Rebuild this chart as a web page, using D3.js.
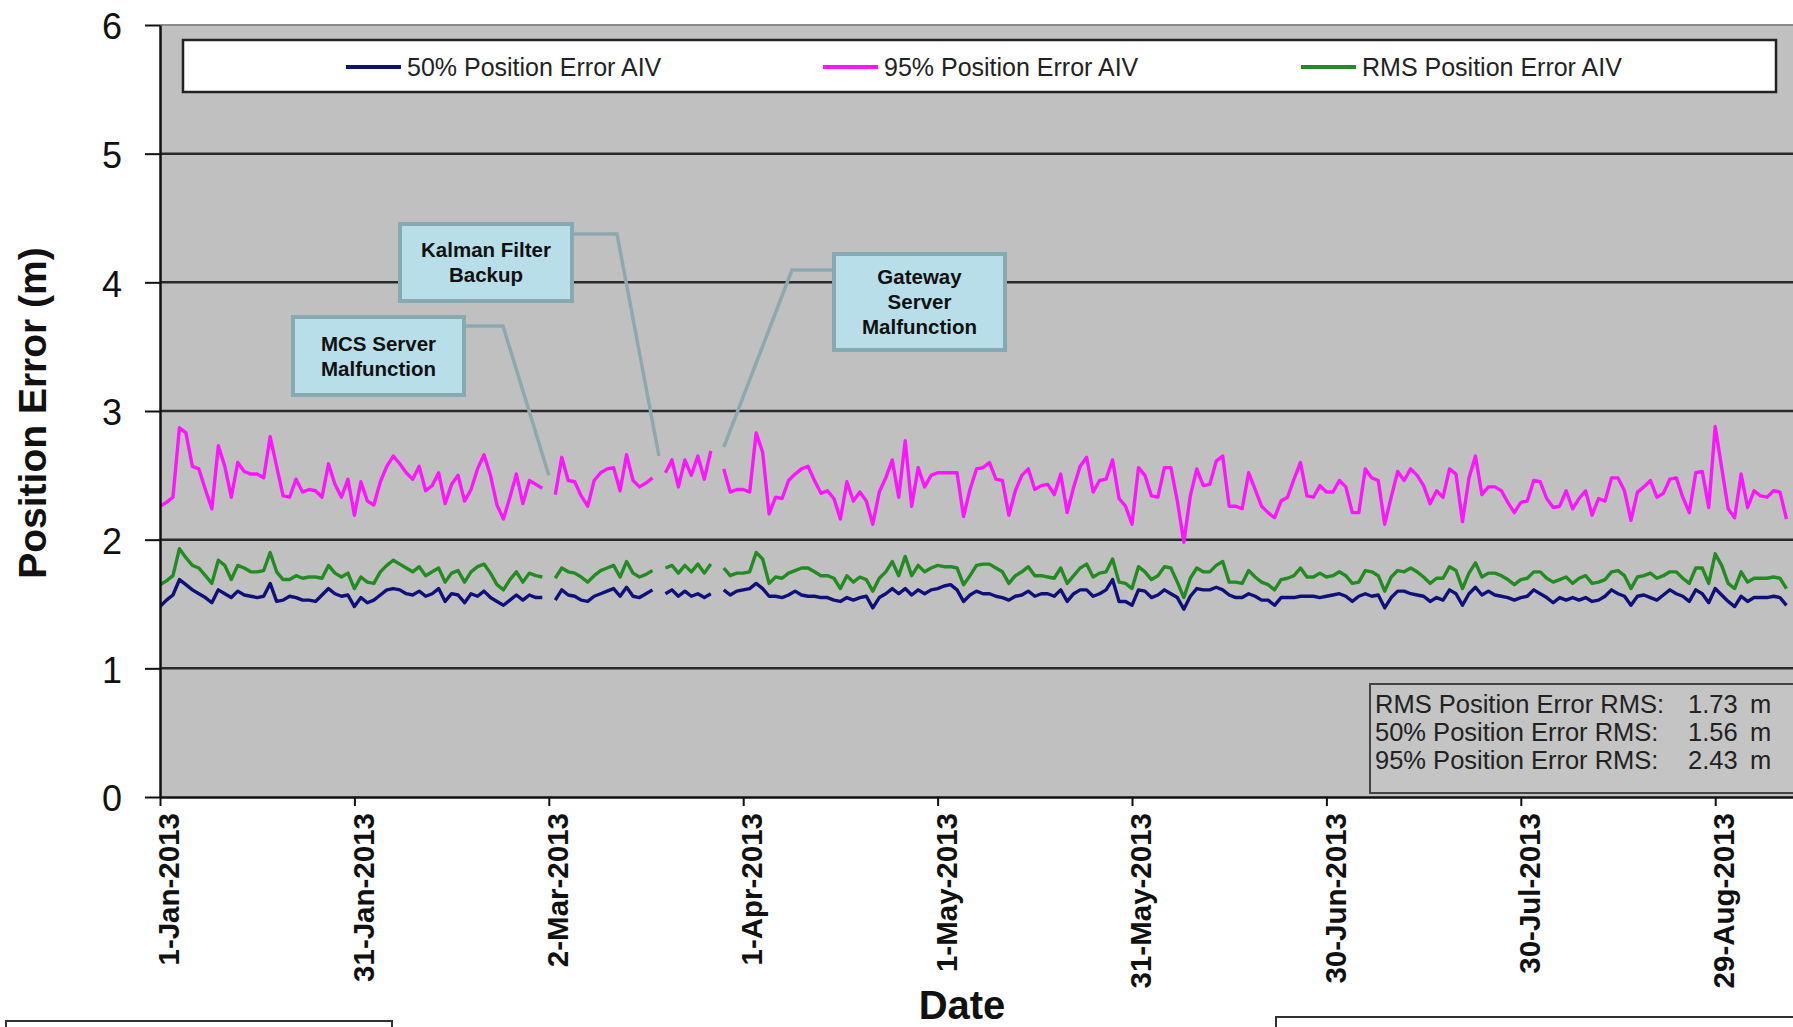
<!DOCTYPE html>
<html><head><meta charset="utf-8">
<script src="https://cdn.jsdelivr.net/npm/d3@7"></script>
<style>
body{margin:0;background:#fff;}
svg{display:block;font-family:"Liberation Sans",Arial,sans-serif;}
</style></head>
<body><svg id="c" width="1793" height="1027"></svg>
<script>
// ---------------- DATA ----------------
const startDate = "1-Jan-2013";
const endDate = "28-Sep-2013";
const seriesNames = ["50% Position Error AIV","95% Position Error AIV","RMS Position Error AIV"];
const seriesColors = ["#10107a","#ff14ff","#228b22"];
const tickLabels = ["1-Jan-2013","31-Jan-2013","2-Mar-2013","1-Apr-2013","1-May-2013","31-May-2013","30-Jun-2013","30-Jul-2013","29-Aug-2013"];
const yTicks = [0,1,2,3,4,5,6];
const yTitle = "Position Error (m)";
const xTitle = "Date";
const statLabels = ["RMS Position Error RMS:","50% Position Error RMS:","95% Position Error RMS:"];
const statValues = ["1.73","1.56","2.43"];
const statUnit = "m";
const annoTexts = [["MCS Server","Malfunction"],["Kalman Filter","Backup"],["Gateway","Server","Malfunction"]];
const annoTargets = [["2-Mar-2013",2.5],["19-Mar-2013",2.65],["29-Mar-2013",2.72]];

// daily values from 1-Jan-2013 (null = no data)
const pe95 = [
2.26,2.29,2.33,2.87,2.83,2.57,2.55,2.39,2.24,2.73, 2.57,2.33,2.60,2.53,2.51,2.51,2.48,2.80,2.57,2.34,
2.33,2.47,2.37,2.39,2.38,2.33,2.59,2.43,2.33,2.47, 2.19,2.45,2.30,2.27,2.45,2.57,2.65,2.59,2.52,2.47,
2.57,2.38,2.42,2.52,2.28,2.43,2.50,2.30,2.39,2.55, 2.66,2.50,2.27,2.16,2.33,2.51,2.28,2.46,2.43,2.40,
null,2.35,
2.64,2.46,2.45,2.34,2.26,2.46,2.52,2.55,2.56,2.38,2.66,2.46,2.41,2.44,2.48,
null,
2.52,2.62,2.41,2.62,2.50,2.65,2.47,2.69,
null,
2.55,2.37,2.39,2.39,2.37,2.83,2.68,2.20,2.33,2.32, 2.46,2.51,2.55,2.57,2.46,2.36,2.38,2.32,2.16,2.45,
2.30,2.37,2.30,2.12,2.37,2.48,2.62,2.33,2.77,2.26, 2.56,2.41,2.50,2.52,2.52,2.52,2.52,2.18,2.39,
2.55,2.56,2.60,2.47,2.46,2.19,2.38,2.50,2.55, 2.39,2.42,2.43,2.35,2.51,2.21,2.41,2.57,2.64,2.37,
2.46,2.47,2.62,2.32,2.26,2.12,2.56,2.50,2.34,2.33, 2.56,2.56,2.30,1.98,2.34,2.55,2.42,2.43,2.61,2.65,
2.26,2.26,2.24,2.52,2.39,2.26,2.21,2.17,2.30,2.33, 2.47,2.60,2.34,2.33,2.42,2.37,2.37,2.46,2.41,2.21,
2.21,2.55,2.48,2.46,2.12,
2.33,2.53,2.46,2.55,2.50,2.42,2.28,2.38,2.33, 2.55,2.51,2.14,2.48,2.65,2.35,2.41,2.41,2.38,2.29,
2.21,2.29,2.30,2.46,2.45,2.32,2.25,2.26,2.38,2.24, 2.32,2.38,2.19,2.32,2.30,2.48,2.48,2.38,2.15,2.37,
2.41,2.46,2.33,2.36,2.47,2.48,2.33,2.21,2.52,2.53, 2.25,2.88,2.56,2.24,2.17,2.51,2.25,2.38,2.34,2.33,
2.38,2.37,2.16
];
const peRMS = [
1.65,1.68,1.72,1.93,1.86,1.80,1.78,1.72,1.66,1.84, 1.80,1.69,1.80,1.78,1.75,1.75,1.76,1.90,1.75,1.69,
1.69,1.72,1.70,1.71,1.71,1.70,1.80,1.74,1.71,1.74, 1.62,1.71,1.67,1.66,1.75,1.80,1.84,1.81,1.78,1.75,
1.79,1.72,1.75,1.78,1.67,1.74,1.76,1.67,1.75,1.79, 1.81,1.74,1.65,1.61,1.69,1.75,1.67,1.74,1.72,1.71,
null,1.70,
1.78,1.75,1.74,1.71,1.67,1.72,1.76,1.78,1.80,1.71,1.83,1.74,1.71,1.73,1.76,
null,
1.78,1.80,1.74,1.80,1.75,1.81,1.74,1.81,
null,
1.78,1.72,1.74,1.74,1.75,1.90,1.85,1.66,1.71,1.70, 1.74,1.76,1.78,1.78,1.75,1.72,1.72,1.70,1.62,1.72,
1.67,1.71,1.69,1.60,1.70,1.75,1.83,1.72,1.87,1.72, 1.80,1.75,1.78,1.80,1.79,1.79,1.78,1.65,1.72,
1.80,1.81,1.81,1.78,1.75,1.66,1.72,1.75,1.79, 1.72,1.72,1.71,1.70,1.78,1.66,1.72,1.78,1.81,1.71,
1.74,1.75,1.85,1.67,1.66,1.62,1.79,1.75,1.69,1.72, 1.79,1.78,1.67,1.55,1.70,1.78,1.75,1.75,1.80,1.83,
1.67,1.67,1.66,1.76,1.71,1.67,1.65,1.61,1.69,1.70, 1.72,1.78,1.71,1.71,1.74,1.71,1.72,1.75,1.72,1.66,
1.67,1.76,1.75,1.72,1.60,
1.71,1.76,1.75,1.78,1.75,1.71,1.66,1.70,1.70, 1.79,1.76,1.62,1.74,1.82,1.71,1.74,1.74,1.72,1.69,
1.65,1.69,1.70,1.75,1.75,1.70,1.67,1.69,1.71,1.66, 1.70,1.72,1.66,1.67,1.69,1.75,1.76,1.72,1.62,1.71,
1.72,1.74,1.70,1.72,1.75,1.75,1.70,1.66,1.78,1.78, 1.66,1.89,1.80,1.66,1.62,1.75,1.67,1.70,1.70,1.70,
1.71,1.70,1.62
];
const pe50 = [
1.48,1.53,1.57,1.69,1.65,1.61,1.58,1.55,1.51,1.61, 1.58,1.55,1.60,1.57,1.56,1.55,1.56,1.66,1.52,1.53,
1.56,1.55,1.53,1.53,1.52,1.57,1.62,1.58,1.56,1.57, 1.48,1.55,1.51,1.53,1.57,1.61,1.62,1.61,1.58,1.57,
1.60,1.56,1.58,1.62,1.52,1.58,1.57,1.51,1.58,1.56, 1.60,1.55,1.52,1.49,1.53,1.57,1.53,1.57,1.55,1.55,
null,1.53,
1.61,1.57,1.56,1.53,1.52,1.56,1.58,1.60,1.62,1.56,1.63,1.56,1.55,1.58,1.61,
null,
1.58,1.61,1.56,1.60,1.56,1.58,1.55,1.58,
null,
1.61,1.57,1.60,1.61,1.62,1.66,1.62,1.56,1.56,1.55, 1.57,1.60,1.57,1.56,1.56,1.55,1.55,1.53,1.52,1.55,
1.53,1.55,1.56,1.47,1.55,1.58,1.62,1.58,1.62,1.57, 1.61,1.58,1.61,1.62,1.64,1.65,1.61,1.52,1.57,
1.60,1.58,1.58,1.56,1.55,1.53,1.56,1.57,1.60, 1.56,1.58,1.58,1.56,1.61,1.52,1.58,1.61,1.61,1.56,
1.58,1.61,1.69,1.52,1.52,1.49,1.61,1.60,1.55,1.57, 1.61,1.58,1.55,1.46,1.56,1.62,1.61,1.61,1.63,1.61,
1.57,1.55,1.55,1.58,1.56,1.53,1.53,1.49,1.55,1.55, 1.55,1.56,1.56,1.56,1.55,1.56,1.57,1.58,1.56,1.52,
1.56,1.58,1.56,1.57,1.47,
1.55,1.60,1.60,1.58,1.57,1.56,1.52,1.55,1.53, 1.61,1.58,1.49,1.58,1.63,1.57,1.60,1.57,1.56,1.55,
1.53,1.55,1.56,1.61,1.58,1.55,1.51,1.55,1.53,1.55, 1.53,1.55,1.52,1.53,1.56,1.61,1.58,1.56,1.49,1.56,
1.57,1.55,1.53,1.57,1.61,1.58,1.56,1.52,1.61,1.58, 1.51,1.62,1.57,1.52,1.48,1.56,1.52,1.55,1.55,1.55,
1.56,1.55,1.49
];

// ---------------- CHART ----------------
const W = 1793, H = 1027;
const parse = d3.utcParse("%d-%b-%Y");
const t0 = parse(startDate), t1 = parse(endDate);
const svg = d3.select("#c");
const x = d3.scaleUtc().domain([t0, t1]).range([160, 1909.6]);
const y = d3.scaleLinear().domain([0, 6]).range([797, 25]);
const day = i => d3.utcDay.offset(t0, i);

// plot background
svg.append("rect").attr("x", x(t0)).attr("y", y(6)).attr("width", W - x(t0)).attr("height", y(0) - y(6)).attr("fill", "#c0c0c0");
// gridlines
svg.append("g").selectAll("line").data(yTicks.filter(v => v > 0 && v < 6)).join("line")
  .attr("x1", x(t0)).attr("x2", W).attr("y1", d => y(d)).attr("y2", d => y(d))
  .attr("stroke", "#2a2a2a").attr("stroke-width", 2.5);
svg.append("line").attr("x1", x(t0)).attr("x2", W).attr("y1", y(6)).attr("y2", y(6)).attr("stroke", "#8a8a8a").attr("stroke-width", 2);

// legend
const lg = svg.append("g");
lg.append("rect").attr("x", 183).attr("y", 40).attr("width", 1593).attr("height", 52).attr("fill", "#fff").attr("stroke", "#222").attr("stroke-width", 2.5);
const legX = [346, 823, 1301];
seriesNames.forEach((n, i) => {
  lg.append("line").attr("x1", legX[i]).attr("x2", legX[i] + 55).attr("y1", 67).attr("y2", 67).attr("stroke", seriesColors[i]).attr("stroke-width", 4);
  lg.append("text").attr("x", legX[i] + 61).attr("y", 67).attr("dy", "0.35em").attr("font-size", 25).attr("fill", "#222").text(n);
});

// annotations
const boxes = [
  {x: 293, y: 317, w: 171, h: 78, ey: 326, ex: 503, side: "r"},
  {x: 400, y: 224, w: 172, h: 77, ey: 234, ex: 617, side: "r"},
  {x: 834, y: 254, w: 171, h: 96, ey: 270, ex: 792, side: "l"}
];
const ag = svg.append("g");
boxes.forEach((b, i) => {
  const tx = x(parse(annoTargets[i][0])), ty = y(annoTargets[i][1]);
  const sx = b.side === "r" ? b.x + b.w : b.x;
  ag.append("polyline").attr("points", `${sx},${b.ey} ${b.ex},${b.ey} ${tx},${ty}`)
    .attr("fill", "none").attr("stroke", "#8ea8b0").attr("stroke-width", 3.5);
});
boxes.forEach((b, i) => {
  ag.append("rect").attr("x", b.x).attr("y", b.y).attr("width", b.w).attr("height", b.h)
    .attr("fill", "#b8dfe9").attr("stroke", "#87a9b2").attr("stroke-width", 4);
  const lines = annoTexts[i];
  const cy = b.y + b.h / 2;
  lines.forEach((t, j) => {
    ag.append("text").attr("x", b.x + b.w / 2).attr("y", cy + (j - (lines.length - 1) / 2) * 25)
      .attr("dy", "0.36em").attr("text-anchor", "middle").attr("font-size", 20.5).attr("font-weight", "bold").attr("fill", "#111").text(t);
  });
});

// series
svg.append("clipPath").attr("id", "clip").append("rect").attr("x", x(t0)).attr("y", y(6)).attr("width", W - x(t0)).attr("height", y(0) - y(6));
const line = d3.line().defined(d => d.v != null).x(d => x(d.t)).y(d => y(d.v));
const all = [pe50, pe95, peRMS];
const sg = svg.append("g").attr("clip-path", "url(#clip)");
[1, 2, 0].forEach(k => {
  const data = all[k].map((v, i) => ({t: day(i), v}));
  sg.append("path").datum(data).attr("d", line).attr("fill", "none")
    .attr("stroke", seriesColors[k]).attr("stroke-width", 3.4).attr("stroke-linejoin", "round");
});

// stats box
const stg = svg.append("g");
stg.append("rect").attr("x", 1370).attr("y", 684).attr("width", 440).attr("height", 109).attr("fill", "#c4c4c4").attr("stroke", "#444").attr("stroke-width", 2);
statLabels.forEach((s, i) => {
  const by = 713 + i * 28;
  stg.append("text").attr("x", 1375).attr("y", by).attr("font-size", 25.5).attr("fill", "#222").text(s);
  stg.append("text").attr("x", 1688).attr("y", by).attr("font-size", 25.5).attr("fill", "#222").text(statValues[i]);
  stg.append("text").attr("x", 1750).attr("y", by).attr("font-size", 25.5).attr("fill", "#222").text(statUnit);
});

// axes
const yAxis = svg.append("g").attr("transform", `translate(${x(t0)},0)`)
  .call(d3.axisLeft(y).tickValues(yTicks).tickSize(15).tickSizeOuter(0).tickPadding(23).tickFormat(d3.format("d")));
yAxis.select(".domain").attr("stroke", "#111").attr("stroke-width", 2.5);
yAxis.selectAll(".tick line").attr("stroke", "#111").attr("stroke-width", 2);
yAxis.selectAll(".tick text").attr("font-size", 36).attr("fill", "#111").attr("dy", "0.38em").attr("font-family", "Liberation Sans, Arial, sans-serif");

const xAxis = svg.append("g").attr("transform", `translate(0,${y(0)})`)
  .call(d3.axisBottom(x).tickValues(tickLabels.map(parse)).tickSize(9).tickSizeOuter(0).tickFormat((d, i) => tickLabels[i]));
xAxis.select(".domain").attr("stroke", "#111").attr("stroke-width", 2.5);
xAxis.selectAll(".tick line").attr("stroke", "#111").attr("stroke-width", 2);
xAxis.selectAll(".tick text").attr("font-size", 29.5).attr("font-weight", "bold").attr("fill", "#111")
  .attr("font-family", "Liberation Sans, Arial, sans-serif")
  .attr("transform", "rotate(-90)").attr("x", -16).attr("y", 8).attr("dy", "0.36em").style("text-anchor", "end");

// titles
svg.append("text").attr("transform", "translate(32,413) rotate(-90)").attr("dy", "0.36em").attr("text-anchor", "middle")
  .attr("font-size", 39).attr("font-weight", "bold").attr("fill", "#111").text(yTitle);
svg.append("text").attr("x", 962).attr("y", 1019).attr("text-anchor", "middle")
  .attr("font-size", 40).attr("font-weight", "bold").attr("fill", "#111").text(xTitle);

// cut-off boxes at bottom
svg.append("rect").attr("x", 6).attr("y", 1021).attr("width", 386).attr("height", 30).attr("fill", "#fff").attr("stroke", "#333").attr("stroke-width", 2);
svg.append("rect").attr("x", 1276).attr("y", 1017).attr("width", 540).attr("height", 30).attr("fill", "#fff").attr("stroke", "#333").attr("stroke-width", 2);
</script></body></html>
